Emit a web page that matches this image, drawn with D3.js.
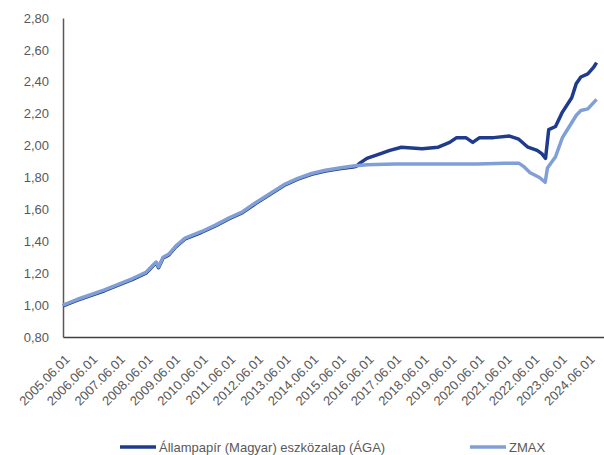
<!DOCTYPE html>
<html>
<head>
<meta charset="utf-8">
<script src="https://cdn.jsdelivr.net/npm/d3@7"></script>
<style>
  body { margin: 0; background: #fff; }
  text { font-family: "Liberation Sans", Arial, sans-serif; fill: #595959; }
</style>
</head>
<body>
<svg id="chart" width="604" height="455"></svg>
<script>
// ZMAX
const zmaxDates = ["2005-06-01","2005-12-01","2006-06-01","2006-12-01","2007-06-01","2007-12-01",
  "2008-06-01","2008-09-01","2008-10-15","2008-11-15","2009-01-15","2009-04-01","2009-07-01",
  "2009-11-01","2010-06-01","2010-12-01","2011-06-01","2011-12-01","2012-06-01","2012-12-01",
  "2013-06-01","2013-12-01","2014-06-01","2014-12-01","2015-06-01","2015-12-01","2016-06-01",
  "2017-06-01","2018-06-01","2019-06-01","2020-06-01","2021-06-01","2021-12-01","2022-02-01",
  "2022-05-01","2022-09-01","2022-11-15","2022-12-15","2023-04-01","2023-07-01","2023-10-01",
  "2024-01-01","2024-03-01","2024-06-01","2024-09-25"];
const zmaxValues = [1.00,1.035,1.065,1.095,1.13,1.165,
  1.205,1.25,1.27,1.24,1.30,1.32,1.37,
  1.42,1.46,1.50,1.545,1.585,1.645,1.70,
  1.755,1.795,1.825,1.845,1.86,1.872,1.88,
  1.885,1.885,1.885,1.885,1.89,1.89,1.87,
  1.83,1.80,1.77,1.86,1.93,2.05,2.12,
  2.19,2.22,2.23,2.29];

// Állampapír (Magyar) eszközalap (ÁGA)
const agaDates = ["2005-06-01","2005-12-01","2006-06-01","2006-12-01","2007-06-01","2007-12-01",
  "2008-06-01","2008-09-01","2008-10-15","2008-11-15","2009-01-15","2009-04-01","2009-07-01",
  "2009-11-01","2010-06-01","2010-12-01","2011-06-01","2011-12-01","2012-06-01","2012-12-01",
  "2013-06-01","2013-12-01","2014-06-01","2014-12-01","2015-06-01","2015-12-01","2016-01-15",
  "2016-03-01","2016-06-01","2016-12-01","2017-04-01","2017-09-01","2018-06-01","2019-01-01",
  "2019-06-01","2019-09-01","2020-01-01","2020-04-01","2020-07-01","2021-01-01","2021-08-01",
  "2021-12-01","2022-04-01","2022-08-01","2022-10-01","2022-11-20","2023-01-01","2023-04-01",
  "2023-07-01","2023-11-01","2024-01-01","2024-03-01","2024-06-01","2024-08-15","2024-09-25"];
const agaValues = [0.995,1.03,1.06,1.09,1.125,1.16,
  1.20,1.245,1.265,1.235,1.295,1.315,1.365,
  1.415,1.455,1.495,1.54,1.58,1.64,1.695,
  1.75,1.79,1.82,1.84,1.855,1.865,1.87,
  1.89,1.92,1.95,1.97,1.99,1.98,1.99,
  2.02,2.05,2.05,2.02,2.05,2.05,2.06,
  2.04,1.99,1.97,1.95,1.92,2.10,2.12,
  2.21,2.30,2.39,2.43,2.45,2.49,2.52];

const yTicks = [0.8, 1.0, 1.2, 1.4, 1.6, 1.8, 2.0, 2.2, 2.4, 2.6, 2.8];
const xTickLabels = ["2005.06.01","2006.06.01","2007.06.01","2008.06.01","2009.06.01",
  "2010.06.01","2011.06.01","2012.06.01","2013.06.01","2014.06.01","2015.06.01",
  "2016.06.01","2017.06.01","2018.06.01","2019.06.01","2020.06.01","2021.06.01",
  "2022.06.01","2023.06.01","2024.06.01"];

const svg = d3.select("#chart");
const parse = d3.timeParse("%Y-%m-%d");
const parseTick = d3.timeParse("%Y.%m.%d");
const fmtY = d3.format(".2f");

const x = d3.scaleTime()
  .domain([parse("2005-06-01"), parse("2025-01-01")])
  .range([63, 604]);
const y = d3.scaleLinear().domain([0.8, 2.8]).range([337, 18]);

const series = [
  { name: "Állampapír (Magyar) eszközalap (ÁGA)", color: "#1f3b8c",
    values: agaDates.map((d, i) => ({ date: parse(d), v: agaValues[i] })) },
  { name: "ZMAX", color: "#809fd6",
    values: zmaxDates.map((d, i) => ({ date: parse(d), v: zmaxValues[i] })) }
];

// y axis
const yAxis = svg.append("g")
  .attr("transform", "translate(63,0)")
  .call(d3.axisLeft(y).tickValues(yTicks).tickSize(0).tickPadding(14)
    .tickFormat(d => fmtY(d).replace(".", ",")));
yAxis.select(".domain").attr("stroke", "#595959").attr("stroke-width", 1.5);
yAxis.selectAll("text").attr("font-size", 13).attr("fill", "#595959")
  .style("font-family", "Liberation Sans, Arial, sans-serif");

// x axis
const xAxis = svg.append("g")
  .attr("transform", "translate(0,337)")
  .call(d3.axisBottom(x).tickValues(xTickLabels.map(parseTick)).tickSize(0)
    .tickFormat(d3.timeFormat("%Y.%m.%d")));
xAxis.select(".domain").attr("stroke", "#404040").attr("stroke-width", 1.5);
xAxis.selectAll("text")
  .attr("font-size", 13).attr("fill", "#595959")
  .style("font-family", "Liberation Sans, Arial, sans-serif")
  .attr("text-anchor", "end")
  .attr("dy", "0.35em")
  .attr("y", 0)
  .attr("transform", "translate(4,20) rotate(-45)");

const line = d3.line()
  .x(d => x(d.date))
  .y(d => y(d.v));

svg.selectAll(".line")
  .data(series)
  .join("path")
  .attr("class", "line")
  .attr("d", d => line(d.values))
  .attr("fill", "none")
  .attr("stroke", d => d.color)
  .attr("stroke-width", 3.5)
  .attr("stroke-linejoin", "round");

// legend
const legendX = [120, 470];
const legend = svg.selectAll(".legend")
  .data(series)
  .join("g")
  .attr("class", "legend")
  .attr("transform", (d, i) => `translate(${legendX[i]},447)`);

legend.append("line")
  .attr("x1", 0).attr("x2", 36)
  .attr("stroke", d => d.color)
  .attr("stroke-width", 3.5);

legend.append("text")
  .attr("x", 39)
  .attr("dy", "0.35em")
  .attr("font-size", 13)
  .text(d => d.name);
</script>
</body>
</html>
